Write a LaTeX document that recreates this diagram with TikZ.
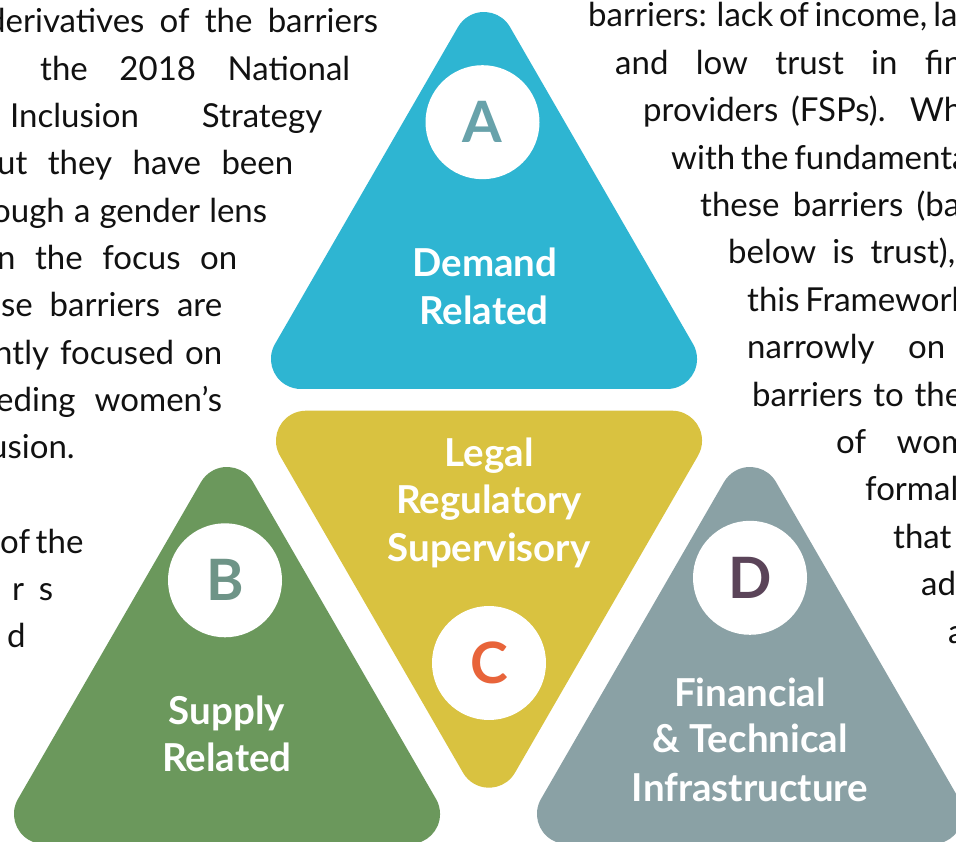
\documentclass[tikz,border=0pt]{standalone}
\usepackage{fontspec}
\setmainfont{Lato}
\definecolor{triA}{HTML}{2EB5D2}
\definecolor{triB}{HTML}{6B985C}
\definecolor{triC}{HTML}{D9C240}
\definecolor{triD}{HTML}{8AA1A5}
\definecolor{letA}{HTML}{68A2AA}
\definecolor{letB}{HTML}{6E9487}
\definecolor{letC}{HTML}{E8643A}
\definecolor{letD}{HTML}{5B4459}
\definecolor{bodyc}{HTML}{111111}
\newcommand\bodyfnt{\fontsize{33}{47}\selectfont}
\newcommand\labfnt{\fontsize{38.5}{48}\selectfont\bfseries}
\newcommand\letfnt{\fontsize{57}{57}\selectfont\bfseries}
% upward rounded triangle: cx, bottom y, colour
\newcommand\uptri[3]{%
  \fill[#3] ({#1-183.04},{#2}) -- ({#1+183.04},{#2})
    arc[start angle=-90,end angle=30,radius=30]
    -- ({#1+25.98},{#2+362}) arc[start angle=30,end angle=150,radius=30]
    -- ({#1-209.02},{#2+45}) arc[start angle=150,end angle=270,radius=30] -- cycle;}
% downward rounded triangle: cx, top y, colour
\newcommand\downtri[3]{%
  \fill[#3] ({#1-183.04},{#2}) -- ({#1+183.04},{#2})
    arc[start angle=90,end angle=-30,radius=30]
    -- ({#1+25.98},{#2-362}) arc[start angle=-30,end angle=-150,radius=30]
    -- ({#1-209.02},{#2-45}) arc[start angle=-150,end angle=-270,radius=30] -- cycle;}
% justified body line: name, x left, y (image), width, text
\newcommand\bline[5]{\node[body] (#1) at (#2,{841-#3}) {\makebox[#4pt][s]{#5}};}
% natural body line: name, x left, y (image), text
\newcommand\nline[4]{\node[body] (#1) at (#2,{841-#3}) {#4};}
\tikzset{
  body/.style={inner sep=0pt, anchor=base west, font=\bodyfnt, text=bodyc},
  lab/.style={inner sep=0pt, anchor=base, font=\labfnt, text=white},
  circ/.style={circle, fill=white, minimum size=114pt, inner sep=0pt, font=\letfnt},
}
\begin{document}
\begin{tikzpicture}[x=1pt,y=1pt]
\useasboundingbox (0,0) rectangle (956,841);
\clip (0,0) rectangle (956,841);
\fill[white] (0,0) rectangle (956,841);
% triangles
\uptri{484}{452}{triA}
\downtri{489}{430.3}{triC}
\uptri{227}{-3}{triB}
\uptri{750}{-3}{triD}
% circles with letters
\node[circ,text=letA] (cA) at (482.5,718.8) {A};
\node[circ,text=letB] (cB) at (225,260.7) {B};
\node[circ,text=letC] (cC) at (489,178) {C};
\node[circ,text=letD] (cD) at (750,263.2) {D};
% labels
\node[lab] (la1) at (485,564) {Demand};
\node[lab] (la2) at (484,516) {Related};
\node[lab] (lc1) at (489,374.3) {Legal};
\node[lab] (lc2) at (489,327.7) {Regulatory};
\node[lab] (lc3) at (489,279.3) {Supervisory};
\node[lab] (lb1) at (227,116) {Supply};
\node[lab] (lb2) at (227,69) {Related};
\node[lab] (ld1) at (750,134) {Financial};
\node[lab] (ld2) at (750,88) {\& Technical};
\node[lab] (ld3) at (750,39) {Infrastructure};
% left text
\bline{l1}{-13}{33}{391}{derivatives of the barriers}
\bline{l2}{40}{80.3}{310}{the 2018 National}
\bline{l3}{10}{127.6}{312}{Inclusion Strategy}
\bline{l4}{-3}{174.9}{296}{ut they have been}
\bline{l5}{-8}{222.2}{275}{ough a gender lens}
\bline{l6}{-3}{269.5}{240}{n the focus on}
\bline{l7}{1}{316.8}{221}{se barriers are}
\bline{l8}{-6}{364.1}{228}{ntly focused on}
\bline{l9}{-4}{411.4}{226}{eding women’s}
\nline{l10}{-11}{458.7}{usion.}
\bline{l11}{0}{553.3}{80}{of the}
\bline{l12}{12}{600.6}{41}{r s}
\nline{l13}{7}{648}{d}
% right text
\bline{r1}{588}{27}{366}{barriers: lack of income, lac}
\bline{r2}{615}{74.4}{347}{and low trust in fin}
\bline{r3}{643}{121.8}{319}{providers (FSPs). Wh}
\bline{r4}{671}{169.2}{289}{with the fundamenta}
\bline{r5}{700}{216.6}{260}{these barriers (ba}
\bline{r6}{728}{264}{227}{below is trust),}
\bline{r7}{747}{311.4}{221}{this Framework}
\bline{r8}{747}{358.8}{198}{narrowly on}
\bline{r9}{752}{406.2}{210}{barriers to the}
\bline{r10}{836}{453.6}{132}{of wom}
\nline{r11}{865}{501}{formal}
\nline{r12}{893}{548.4}{that}
\nline{r13}{921}{595.8}{ad}
\nline{r14}{948}{643.2}{a}
\end{tikzpicture}
\end{document}
